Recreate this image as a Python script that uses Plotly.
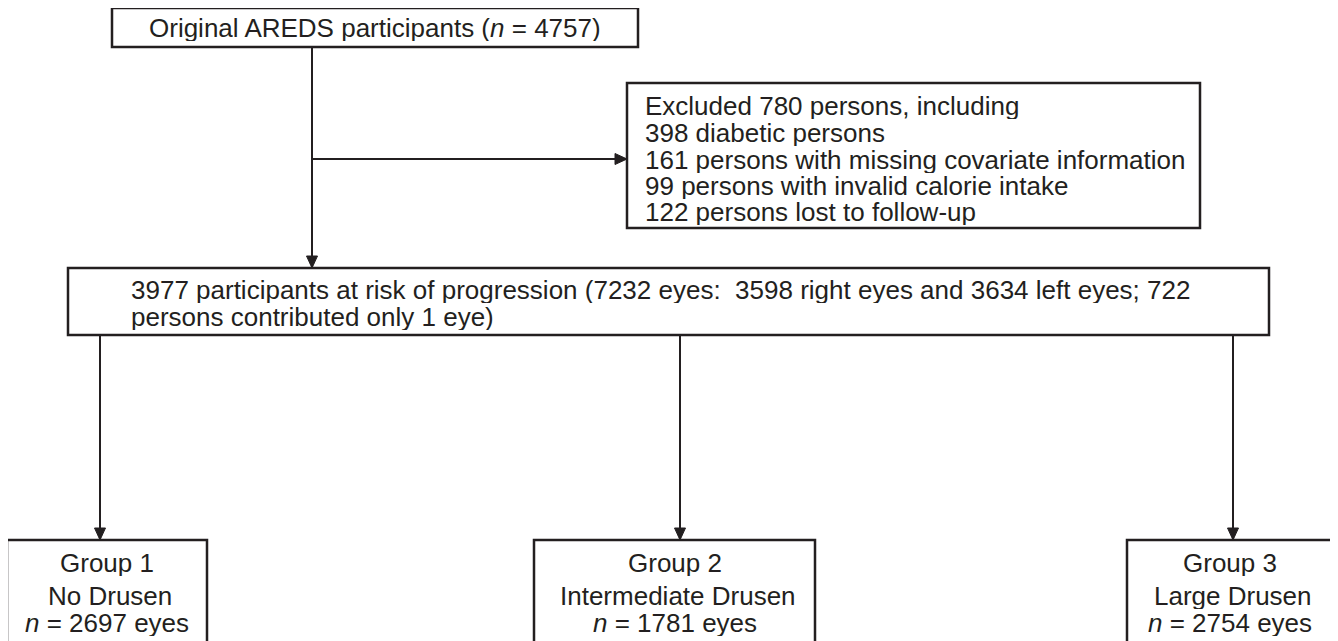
import plotly.graph_objects as go

# ---------------- data (text and counts) ----------------
n_original = 4757
n_excluded = 780
excl_reasons = ["diabetic persons", "persons with missing covariate information",
                "persons with invalid calorie intake", "persons lost to follow-up"]
excl_counts = [398, 161, 99, 122]
n_at_risk = 3977
n_eyes = 7232
n_right = 3598
n_left = 3634
n_one_eye = 722
group_titles = ["Group 1", "Group 2", "Group 3"]
group_desc = ["No Drusen", "Intermediate Drusen", "Large Drusen"]
group_eyes = [2697, 1781, 2754]

# ---------------- layout of the diagram (page-pixel space) ----------------
W, H = 1338, 641
PAGE_MARGIN = 8  # default body margin of the html page
INK = "#231f20"
FONT = "Liberation Sans, Arial, Helvetica, sans-serif"
FS = 26

boxes = {
    "orig": (112, 8, 638, 47),
    "excl": (627, 83, 1200, 228),
    "risk": (68, 268, 1269, 335),
    "g1": (7, 540, 207, 670),
    "g2": (534, 540, 815, 670),
    "g3": (1127, 540, 1333, 670),
}
group_x = [100, 680, 1233]
trunk_x = 312
branch_y = 159

fig = go.Figure()
shapes = []
annotations = []

for key, (x0, y0, x1, y1) in boxes.items():
    shapes.append(dict(type="rect", x0=x0, y0=y0, x1=x1, y1=y1,
                       line=dict(color=INK, width=2.5), fillcolor="white", layer="below"))


def arrow(xa, ya, xb, yb):
    shapes.append(dict(type="line", x0=xa, y0=ya, x1=xb, y1=yb,
                       line=dict(color=INK, width=2)))
    L, hw = 12, 5.5
    if xa == xb:  # vertical, pointing down
        p = f"M {xb} {yb} L {xb - hw} {yb - L} L {xb + hw} {yb - L} Z"
    else:  # horizontal, pointing right
        p = f"M {xb} {yb} L {xb - L} {yb - hw} L {xb - L} {yb + hw} Z"
    shapes.append(dict(type="path", path=p, fillcolor=INK, line=dict(color=INK, width=1)))


ob = boxes["orig"]
rb = boxes["risk"]
eb = boxes["excl"]
arrow(trunk_x, ob[3], trunk_x, rb[1])
arrow(trunk_x, branch_y, eb[0], branch_y)
for gx, key in zip(group_x, ["g1", "g2", "g3"]):
    arrow(gx, rb[3], gx, boxes[key][1])


def text(x, y, s, anchor="left", h=26):
    annotations.append(dict(x=x, y=y, text=s, showarrow=False, xanchor=anchor,
                            yanchor="middle", height=h, valign="middle", borderpad=0,
                            font=dict(family=FONT, size=FS, color=INK)))


# original box text (centred in its box)
text((ob[0] + ob[2]) / 2, 28, f"Original AREDS participants (<i>n</i> = {n_original})", "center")

# excluded box text
excl_lines = [f"Excluded {n_excluded} persons, including"] + \
    [f"{c} {r}" for c, r in zip(excl_counts, excl_reasons)]
excl_y = [106, 133, 160, 186, 212]
for yy, s in zip(excl_y, excl_lines):
    text(644, yy, s)

# at-risk box text
risk_lines = [
    f"{n_at_risk} participants at risk of progression ({n_eyes} eyes:&nbsp;&nbsp;{n_right} right eyes and {n_left} left eyes; {n_one_eye}",
    "persons contributed only 1 eye)",
]
for yy, s in zip([290, 317], risk_lines):
    text(130, yy, s)

# group boxes text
for key, t, d, n in zip(["g1", "g2", "g3"], group_titles, group_desc, group_eyes):
    x0, y0, x1, y1 = boxes[key]
    cx = (x0 + x1) / 2
    text(cx, 563, t, "center")
    text(cx + 3, 596, d, "center")
    text(cx, 623, f"<i>n</i> = {n} eyes", "center")

fig.update_layout(
    width=W - PAGE_MARGIN, height=H - PAGE_MARGIN,
    margin=dict(l=0, r=0, t=0, b=0, pad=0),
    paper_bgcolor="white", plot_bgcolor="white",
    xaxis=dict(range=[PAGE_MARGIN, W], visible=False, fixedrange=True),
    yaxis=dict(range=[H, PAGE_MARGIN], visible=False, fixedrange=True),
    shapes=shapes, annotations=annotations, showlegend=False,
)
fig.write_html("out.html", config={"displayModeBar": False})
